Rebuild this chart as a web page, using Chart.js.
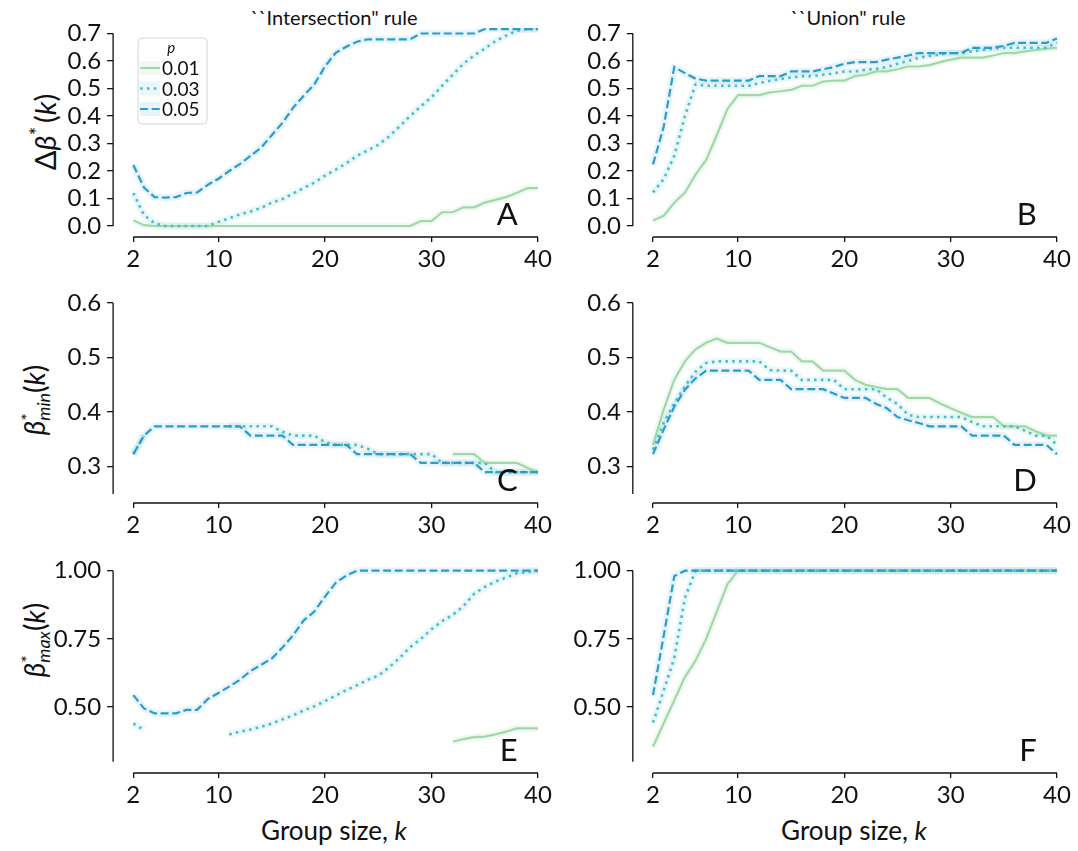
<!DOCTYPE html>
<html>
<head>
<meta charset="utf-8">
<script src="https://cdn.jsdelivr.net/npm/chart.js@4.4.0/dist/chart.umd.min.js"></script>
<style>
  body { margin: 0; background: #fff; font-family: Lato, sans-serif; color: #111; }
  #wrap { position: relative; width: 1078px; height: 851px; overflow: hidden; }
  #wrap canvas { position: absolute; }
  .lbl { position: absolute; white-space: nowrap; transform: translate(-50%, -50%); line-height: 1; }
  .col-title { font-size: 20px; }
  .x-title { font-size: 26px; }
  .y-title { font-size: 29px; transform: translate(-50%, -50%) rotate(-90deg); }
  .y-sm { font-size: 28px; }
  .ss { display: inline-block; vertical-align: -0.3em; font-size: 0.64em; line-height: 0.9; text-align: left; }
  .ss span { display: block; }
</style>
</head>
<body>
<div id="wrap">
  <div class="lbl col-title" style="left:334px; top:17px;">``Intersection" rule</div>
  <div class="lbl col-title" style="left:848px; top:17px;">``Union" rule</div>
  <div class="lbl x-title" style="left:334px; top:830px;">Group size, <i>k</i></div>
  <div class="lbl x-title" style="left:854px; top:830px;">Group size, <i>k</i></div>
  <div class="lbl y-title" style="left:43px; top:132px;">&Delta;<i>&beta;</i><sup style="font-size:0.7em">*</sup>&thinsp;(<i>k</i>)</div>
  <div class="lbl y-title y-sm" style="left:35px; top:400px;"><i>&beta;</i><span class="ss"><span>*</span><span><i>min</i></span></span>(<i>k</i>)</div>
  <div class="lbl y-title y-sm" style="left:35px; top:640px;"><i>&beta;</i><span class="ss"><span>*</span><span><i>max</i></span></span>(<i>k</i>)</div>
</div>
<script>
// group sizes k
const ks = [2, 3, 4, 5, 6, 7, 8, 9, 10, 11, 12, 13, 14, 15, 16, 17, 18, 19, 20, 21,
            22, 23, 24, 25, 26, 27, 28, 29, 30, 31, 32, 33, 34, 35, 36, 37, 38, 39, 40];
const xTicks = [2, 10, 20, 30, 40];
const pLabels = ['0.01', '0.03', '0.05'];

const yTicksDelta = [0, 0.1, 0.2, 0.3, 0.4, 0.5, 0.6, 0.7];
const yTicksMin = [0.3, 0.4, 0.5, 0.6];
const yTicksMax = [0.5, 0.75, 1.0];

// A: delta beta*, intersection
const A_p01 = [0.02, 0.003, 0, 0, 0, 0, 0, 0, 0, 0, 0, 0, 0, 0, 0, 0, 0, 0, 0, 0,
               0, 0, 0, 0, 0, 0, 0, 0.018, 0.018, 0.05, 0.05, 0.068, 0.068, 0.085, 0.095, 0.105, 0.12, 0.138, 0.138];
const A_p03 = [0.12, 0.04, 0.01, 0, 0, 0, 0, 0, 0.015, 0.028, 0.042, 0.053, 0.066, 0.085, 0.098, 0.118, 0.138, 0.158, 0.183, 0.205,
               0.228, 0.255, 0.275, 0.295, 0.325, 0.362, 0.40, 0.435, 0.468, 0.51, 0.55, 0.59, 0.62, 0.645, 0.672, 0.692, 0.71, 0.716, 0.716];
const A_p05 = [0.222, 0.14, 0.105, 0.103, 0.105, 0.12, 0.122, 0.15, 0.172, 0.2, 0.225, 0.255, 0.285, 0.33, 0.375, 0.43, 0.474, 0.515, 0.58, 0.63,
               0.652, 0.67, 0.679, 0.679, 0.679, 0.679, 0.679, 0.70, 0.70, 0.70, 0.70, 0.70, 0.70, 0.716, 0.716, 0.716, 0.716, 0.716, 0.716];

// B: delta beta*, union
const B_p01 = [0.02, 0.037, 0.085, 0.122, 0.187, 0.24, 0.33, 0.425, 0.476, 0.476, 0.476, 0.486, 0.49, 0.495, 0.51, 0.51, 0.525, 0.529, 0.529, 0.545,
               0.55, 0.562, 0.562, 0.57, 0.58, 0.58, 0.585, 0.596, 0.605, 0.612, 0.612, 0.612, 0.62, 0.629, 0.629, 0.635, 0.64, 0.645, 0.648];
const B_p03 = [0.122, 0.17, 0.255, 0.40, 0.515, 0.51, 0.51, 0.51, 0.51, 0.51, 0.52, 0.528, 0.535, 0.54, 0.545, 0.545, 0.55, 0.555, 0.562, 0.562,
               0.568, 0.572, 0.578, 0.59, 0.60, 0.612, 0.618, 0.624, 0.629, 0.629, 0.635, 0.64, 0.645, 0.648, 0.648, 0.648, 0.648, 0.648, 0.667];
const B_p05 = [0.224, 0.36, 0.578, 0.556, 0.536, 0.529, 0.529, 0.529, 0.529, 0.529, 0.545, 0.545, 0.545, 0.562, 0.562, 0.562, 0.57, 0.578, 0.59, 0.596,
               0.596, 0.596, 0.605, 0.612, 0.62, 0.629, 0.629, 0.629, 0.629, 0.629, 0.648, 0.648, 0.648, 0.655, 0.666, 0.666, 0.666, 0.666, 0.682];

// C: beta*_min, intersection
const C_p01 = [null, null, null, null, null, null, null, null, null, null, null, null, null, null, null, null, null, null, null, null,
               null, null, null, null, null, null, null, null, null, null, 0.323, 0.323, 0.323, 0.307, 0.307, 0.307, 0.307, 0.298, 0.29];
const C_p03 = [0.323, 0.357, null, null, null, null, null, null, null, 0.374, 0.374, 0.374, 0.374, 0.374, 0.364, 0.357, 0.357, 0.357, 0.345, 0.34,
               0.34, 0.34, 0.333, 0.323, 0.323, 0.323, 0.323, 0.323, 0.323, 0.307, 0.307, 0.307, 0.307, 0.307, 0.29, 0.29, 0.29, 0.29, 0.29];
const C_p05 = [0.323, 0.357, 0.374, 0.374, 0.374, 0.374, 0.374, 0.374, 0.374, 0.374, 0.374, 0.357, 0.357, 0.357, 0.357, 0.34, 0.34, 0.34, 0.34, 0.34,
               0.34, 0.323, 0.323, 0.323, 0.323, 0.323, 0.323, 0.307, 0.307, 0.307, 0.307, 0.307, 0.307, 0.29, 0.29, 0.29, 0.29, 0.29, 0.29];

// D: beta*_min, union
const D_p01 = [0.34, 0.404, 0.459, 0.493, 0.515, 0.527, 0.535, 0.527, 0.527, 0.527, 0.527, 0.519, 0.511, 0.511, 0.493, 0.493, 0.476, 0.476, 0.476, 0.459,
               0.45, 0.446, 0.442, 0.442, 0.426, 0.426, 0.426, 0.416, 0.407, 0.399, 0.391, 0.391, 0.391, 0.374, 0.374, 0.374, 0.365, 0.357, 0.357];
const D_p03 = [0.331, 0.38, 0.416, 0.447, 0.474, 0.49, 0.493, 0.493, 0.493, 0.493, 0.493, 0.477, 0.476, 0.476, 0.459, 0.459, 0.459, 0.459, 0.442, 0.442,
               0.442, 0.442, 0.426, 0.415, 0.395, 0.391, 0.391, 0.391, 0.391, 0.391, 0.382, 0.374, 0.374, 0.374, 0.374, 0.366, 0.357, 0.357, 0.34];
const D_p05 = [0.323, 0.368, 0.41, 0.441, 0.462, 0.476, 0.476, 0.476, 0.476, 0.476, 0.459, 0.459, 0.459, 0.442, 0.442, 0.442, 0.442, 0.434, 0.426, 0.426,
               0.426, 0.415, 0.407, 0.391, 0.385, 0.38, 0.374, 0.374, 0.374, 0.374, 0.357, 0.357, 0.357, 0.357, 0.34, 0.34, 0.34, 0.34, 0.323];

// E: beta*_max, intersection
const E_p01 = [null, null, null, null, null, null, null, null, null, null, null, null, null, null, null, null, null, null, null, null,
               null, null, null, null, null, null, null, null, null, null, 0.373, 0.383, 0.39, 0.392, 0.40, 0.41, 0.422, 0.422, 0.422];
const E_p03 = [0.44, 0.416, null, null, null, null, null, null, null, 0.40, 0.41, 0.418, 0.428, 0.44, 0.455, 0.47, 0.488, 0.503, 0.522, 0.542,
               0.562, 0.58, 0.60, 0.615, 0.645, 0.68, 0.72, 0.75, 0.785, 0.815, 0.838, 0.87, 0.915, 0.94, 0.96, 0.975, 0.99, 0.995, 1.0];
const E_p05 = [0.544, 0.495, 0.477, 0.477, 0.477, 0.49, 0.49, 0.53, 0.552, 0.575, 0.60, 0.632, 0.655, 0.678, 0.718, 0.763, 0.818, 0.85, 0.905, 0.955,
               0.982, 1.0, 1.0, 1.0, 1.0, 1.0, 1.0, 1.0, 1.0, 1.0, 1.0, 1.0, 1.0, 1.0, 1.0, 1.0, 1.0, 1.0, 1.0];

// F: beta*_max, union
const F_p01 = [0.355, 0.44, 0.525, 0.61, 0.67, 0.75, 0.85, 0.95, 1.0, 1.0, 1.0, 1.0, 1.0, 1.0, 1.0, 1.0, 1.0, 1.0, 1.0, 1.0,
               1.0, 1.0, 1.0, 1.0, 1.0, 1.0, 1.0, 1.0, 1.0, 1.0, 1.0, 1.0, 1.0, 1.0, 1.0, 1.0, 1.0, 1.0, 1.0];
const F_p03 = [0.443, 0.56, 0.68, 0.90, 1.0, 1.0, 1.0, 1.0, 1.0, 1.0, 1.0, 1.0, 1.0, 1.0, 1.0, 1.0, 1.0, 1.0, 1.0, 1.0,
               1.0, 1.0, 1.0, 1.0, 1.0, 1.0, 1.0, 1.0, 1.0, 1.0, 1.0, 1.0, 1.0, 1.0, 1.0, 1.0, 1.0, 1.0, 1.0];
const F_p05 = [0.544, 0.76, 0.98, 1.0, 1.0, 1.0, 1.0, 1.0, 1.0, 1.0, 1.0, 1.0, 1.0, 1.0, 1.0, 1.0, 1.0, 1.0, 1.0, 1.0,
               1.0, 1.0, 1.0, 1.0, 1.0, 1.0, 1.0, 1.0, 1.0, 1.0, 1.0, 1.0, 1.0, 1.0, 1.0, 1.0, 1.0, 1.0, 1.0];

// line styles per p
const styles = [
  { color: '#9fd9aa', band: 'rgba(159,217,170,0.15)', width: 2.2, dash: [] },
  { color: '#4fbdc8', band: 'rgba(79,189,200,0.12)', width: 2.6, dash: [2.6, 4.2] },
  { color: '#2a9dcc', band: 'rgba(42,157,204,0.11)', width: 2.2, dash: [8, 3.6] }
];

// page layout of the six panels
const cols = [
  { cx: 0,   cw: 560, L: 113.1, R: 543.3 },
  { cx: 560, cw: 518, L: 632.8, R: 1062.3 }
];
const rows = [
  { cy: 0,   ch: 275, T: 28,    B: 237, min: -0.04,  max: 0.72, ticks: yTicksDelta, dec: 1, spine: [0, 0.7] },
  { cy: 275, ch: 265, T: 297.5, B: 503, min: 0.2335, max: 0.61, ticks: yTicksMin,   dec: 1, spine: [0.25, 0.6] },
  { cy: 540, ch: 311, T: 565.2, B: 773, min: 0.2586, max: 1.02, ticks: yTicksMax,   dec: 2, spine: [0.3, 1.0] }
];

const panels = [
  { col: 0, row: 0, letter: 'A', series: [A_p01, A_p03, A_p05], legend: true },
  { col: 1, row: 0, letter: 'B', series: [B_p01, B_p03, B_p05] },
  { col: 0, row: 1, letter: 'C', series: [C_p01, C_p03, C_p05] },
  { col: 1, row: 1, letter: 'D', series: [D_p01, D_p03, D_p05] },
  { col: 0, row: 2, letter: 'E', series: [E_p01, E_p03, E_p05] },
  { col: 1, row: 2, letter: 'F', series: [F_p01, F_p03, F_p05] }
];

// trimmed, offset spines like seaborn despine
const spines = {
  id: 'spines',
  afterDraw(chart, args, opts) {
    const { ctx, chartArea: a, scales: { x, y } } = chart;
    ctx.save();
    ctx.strokeStyle = '#111';
    ctx.lineWidth = 1.3;
    ctx.beginPath();
    ctx.moveTo(a.left, y.getPixelForValue(opts.lo));
    ctx.lineTo(a.left, y.getPixelForValue(opts.hi));
    ctx.moveTo(x.getPixelForValue(2), a.bottom);
    ctx.lineTo(x.getPixelForValue(40), a.bottom);
    ctx.stroke();
    ctx.restore();
  }
};

const panelLetter = {
  id: 'panelLetter',
  afterDatasetsDraw(chart, args, opts) {
    const { ctx, chartArea: a, scales: { x } } = chart;
    ctx.save();
    ctx.fillStyle = '#111';
    ctx.font = '31px Lato';
    ctx.textAlign = 'right';
    ctx.textBaseline = 'alphabetic';
    ctx.fillText(opts.text, x.getPixelForValue(38.1), a.bottom - 12);
    ctx.restore();
  }
};

const legendBox = {
  id: 'legendBox',
  afterDatasetsDraw(chart, args, opts) {
    if (!opts.show) return;
    const ctx = chart.ctx, a = chart.chartArea;
    const bx = a.left + 25, by = a.top + 10, bw = 69, bh = 86;
    ctx.save();
    ctx.fillStyle = 'rgba(255,255,255,0.85)';
    ctx.strokeStyle = '#d6d6d6';
    ctx.lineWidth = 1;
    ctx.beginPath();
    ctx.roundRect(bx, by, bw, bh, 4);
    ctx.fill();
    ctx.stroke();
    ctx.fillStyle = '#111';
    ctx.font = 'italic 15px Lato';
    ctx.textAlign = 'center';
    ctx.textBaseline = 'middle';
    ctx.fillText('p', bx + 33, by + 10);
    chart.data.datasets.filter(d => d.legendItem).forEach((d, i) => {
      const yy = by + 30 + i * 20.5;
      ctx.fillStyle = d.bandColor;
      ctx.fillRect(bx + 2, yy - 7, 20, 14);
      ctx.strokeStyle = d.borderColor;
      ctx.lineWidth = d.borderWidth;
      ctx.setLineDash(d.borderDash);
      ctx.beginPath();
      ctx.moveTo(bx + 2, yy);
      ctx.lineTo(bx + 22, yy);
      ctx.stroke();
      ctx.setLineDash([]);
      ctx.fillStyle = '#111';
      ctx.font = '19px Lato';
      ctx.textAlign = 'left';
      ctx.fillText(d.label, bx + 24, yy + 1);
    });
    ctx.restore();
  }
};

const wrap = document.getElementById('wrap');

panels.forEach(p => {
  const col = cols[p.col], row = rows[p.row];
  const cv = document.createElement('canvas');
  cv.width = col.cw;
  cv.height = row.ch;
  cv.style.left = col.cx + 'px';
  cv.style.top = row.cy + 'px';
  wrap.appendChild(cv);

  const datasets = [];
  p.series.forEach((vals, i) => {
    const st = styles[i];
    const pts = ks.map((k, j) => ({ x: k, y: vals[j] }));
    datasets.push({
      label: pLabels[i], data: pts, legendItem: true, bandColor: st.band,
      borderColor: st.color, borderWidth: st.width, borderDash: st.dash,
      borderCapStyle: 'butt', pointRadius: 0, tension: 0, fill: false, order: 3 - i
    });
    // faint halo standing in for the confidence band
    datasets.push({
      label: '', data: pts, borderColor: st.band, borderWidth: 7,
      borderJoinStyle: 'round', pointRadius: 0, tension: 0, fill: false, order: 10 + i
    });
  });

  const tickFont = { family: 'Lato', size: 24 };
  new Chart(cv, {
    type: 'line',
    data: { datasets },
    plugins: [spines, panelLetter, legendBox],
    options: {
      responsive: false,
      animation: false,
      events: [],
      layout: { padding: { left: 0, top: row.T - row.cy, right: col.cx + col.cw - col.R, bottom: 0 } },
      plugins: {
        legend: { display: false },
        tooltip: { enabled: false },
        spines: { lo: row.spine[0], hi: row.spine[1] },
        panelLetter: { text: p.letter },
        legendBox: { show: !!p.legend }
      },
      scales: {
        x: {
          type: 'linear', min: 0.1, max: 40.5,
          afterBuildTicks: s => { s.ticks = xTicks.map(v => ({ value: v })); },
          afterFit: s => { s.height = row.cy + row.ch - row.B; },
          border: { display: false },
          grid: { drawOnChartArea: false, drawTicks: true, tickLength: 5, color: '#111', lineWidth: 1.3 },
          ticks: { autoSkip: false, maxRotation: 0, padding: 3, color: '#111', font: tickFont, callback: v => String(v) }
        },
        y: {
          type: 'linear', min: row.min, max: row.max,
          afterBuildTicks: s => { s.ticks = row.ticks.map(v => ({ value: v })); },
          afterFit: s => { s.width = col.L - col.cx; },
          border: { display: false },
          grid: { drawOnChartArea: false, drawTicks: true, tickLength: 6, color: '#111', lineWidth: 1.3 },
          ticks: { autoSkip: false, padding: 6, color: '#111', font: tickFont, callback: v => v.toFixed(row.dec) }
        }
      }
    }
  });
});
</script>
</body>
</html>
